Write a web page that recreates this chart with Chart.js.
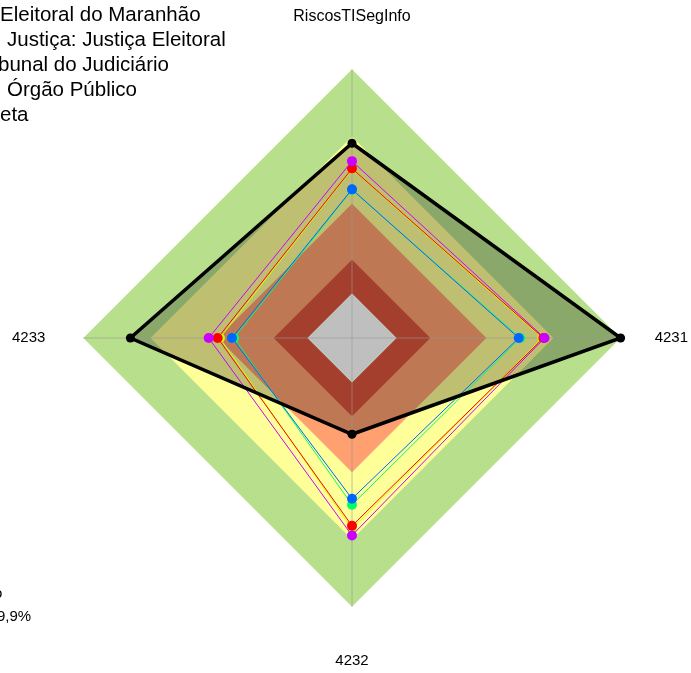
<!DOCTYPE html>
<html lang="pt-BR">
<head>
<meta charset="UTF-8">
<title>RiscosTISegInfo</title>
<script src="https://cdn.jsdelivr.net/npm/chart.js@4"></script>
<style>
    body { margin: 0; background: #ffffff; }
    canvas { display: block; }
</style>
</head>
<body>
<canvas id="chart_radar" width="691" height="673"></canvas>
<script>
// Eixos do radar (sentido horário a partir do topo)
var eixos = ['RiscosTISegInfo', '4231', '4232', '4233'];

// Valores das séries (escala de -0.2 a 1)
var valoresMeta = [0.67, 1.0, 0.23, 0.79];
var valoresRoxo = [0.59, 0.66, 0.682, 0.44];
var valoresAzul = [0.464, 0.545, 0.518, 0.336];
var valoresVerde = [0.462, 0.552, 0.545, 0.327];
var valoresVermelho = [0.557, 0.655, 0.639, 0.40];
var valoresAmarelo = [0.555, 0.65, 0.652, 0.39];

// Faixas de fundo (limite externo de cada faixa, todas partem do zero)
var faixas = [0.15, 0.4, 0.7, 1.0];
var coresFaixas = ['#DA553B', '#FFA070', '#FFFF99', '#B8E08C'];

// Textos que aparecem cortados na lateral esquerda
var textoTopo = ['Eleitoral do Maranhão', 'Justiça: Justiça Eleitoral', 'bunal do Judiciário', 'Órgão Público', 'eta'];
var textoRodape = ['o', '9,9%'];

var fonte = '"Liberation Sans", Arial, sans-serif';

function serie(valores, cor) {
    return {
        label: cor,
        data: valores,
        fill: false,
        borderColor: cor,
        backgroundColor: cor,
        borderWidth: 1,
        pointRadius: 5,
        pointBorderWidth: 0,
        pointBackgroundColor: cor
    };
}

function faixa(valor, cor) {
    return {
        label: 'faixa ' + valor,
        data: eixos.map(function () { return valor; }),
        fill: { value: 0 },
        backgroundColor: cor,
        borderColor: 'rgba(0,0,0,0)',
        borderWidth: 0,
        pointRadius: 0,
        pointHitRadius: 0
    };
}

// o primeiro dataset fica por cima
let datasets = [
    {
        label: 'Meta',
        data: valoresMeta,
        fill: 'start',
        backgroundColor: 'rgba(0,0,0,0.25)',
        borderColor: '#000000',
        borderWidth: 3.5,
        pointRadius: 4.5,
        pointBorderWidth: 0,
        pointBackgroundColor: '#000000'
    },
    serie(valoresRoxo, '#CC00FF'),
    serie(valoresAzul, '#0066FF'),
    serie(valoresVerde, '#00FF66'),
    serie(valoresVermelho, '#FF0000'),
    serie(valoresAmarelo, '#CCFF00')
];
for (let i = 0; i < faixas.length; i++) {
    datasets.push(faixa(faixas[i], coresFaixas[i]));
}

// padding de cada rótulo (topo, direita, baixo, esquerda)
var paddingRotulos = [43, 34, 45, 38];

// textos cortados desenhados por cima do gráfico
const textosLaterais = {
    id: 'textosLaterais',
    afterDraw(chart) {
        const ctx = chart.ctx;
        const xTopo = [0, 7, -2, 7, 0];
        ctx.save();
        ctx.fillStyle = '#000000';
        ctx.textBaseline = 'alphabetic';
        ctx.textAlign = 'left';
        ctx.font = '20.5px ' + fonte;
        for (let i = 0; i < textoTopo.length; i++) {
            ctx.fillText(textoTopo[i], xTopo[i], 21 + i * 25);
        }
        ctx.font = '15px ' + fonte;
        ctx.fillText(textoRodape[0], -6, 598);
        ctx.fillText(textoRodape[1], -3, 621);
        ctx.restore();
    }
};

const config_radar = {
    type: 'radar',
    data: {
        labels: eixos,
        datasets: datasets
    },
    options: {
        responsive: false,
        animation: false,
        layout: {
            padding: { left: 10, right: 1, top: 7, bottom: 2 }
        },
        elements: {
            line: { tension: 0 }
        },
        scales: {
            r: {
                min: -0.2,
                max: 1,
                ticks: { display: false },
                grid: { display: false },
                angleLines: {
                    display: true,
                    color: 'rgba(150,150,150,0.6)',
                    lineWidth: 1
                },
                pointLabels: {
                    color: '#000000',
                    font: function (context) {
                        return { size: context.index == 0 ? 16 : 15, family: fonte };
                    },
                    padding: function (context) {
                        return paddingRotulos[context.index];
                    }
                }
            }
        },
        plugins: {
            filler: { drawTime: 'beforeDraw' },
            legend: { display: false },
            tooltip: { enabled: false }
        }
    },
    plugins: [textosLaterais]
};

const chart_radar = new Chart(
    document.getElementById('chart_radar'),
    config_radar
);
</script>
</body>
</html>
